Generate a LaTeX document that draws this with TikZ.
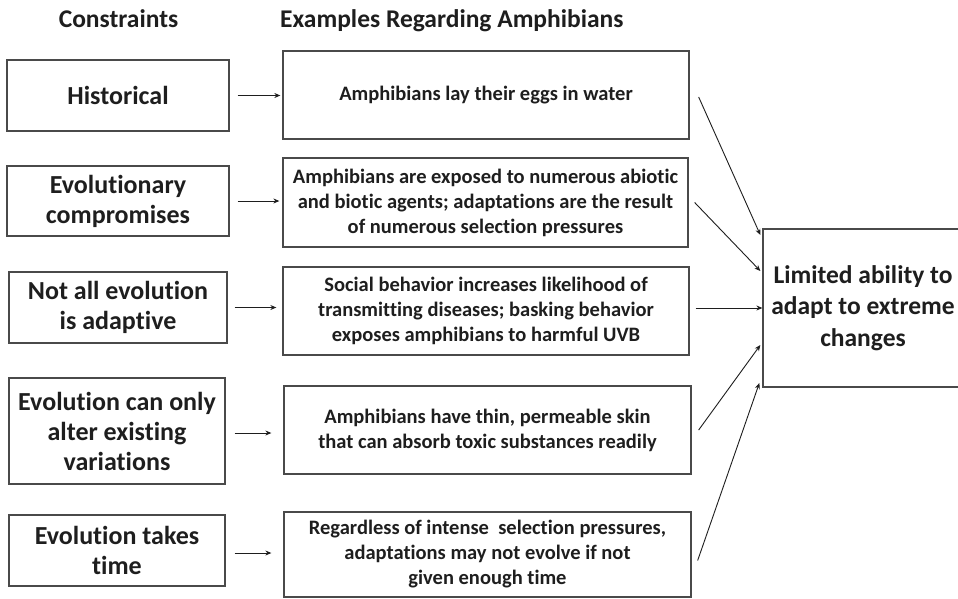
\documentclass[tikz,border=0pt]{standalone}
\usepackage{fontspec}
\setmainfont{Carlito}[Ligatures=NoCommon]
\usetikzlibrary{arrows.meta}
\definecolor{ink}{HTML}{1E1E1E}
\definecolor{frame}{HTML}{4A4A4A}
\tikzset{
  box/.style={draw=frame, line width=1.3pt, inner sep=2pt, align=center, text=ink, anchor=center},
  cbox/.style={box, font=\fontsize{26}{30}\selectfont\bfseries},
  ebox/.style={box, font=\fontsize{20.5}{25}\selectfont\bfseries},
  rbox/.style={box, font=\fontsize{25.5}{31.5}\selectfont\bfseries},
  head/.style={inner sep=0pt, anchor=base, text=ink, font=\fontsize{25.5}{28}\selectfont\bfseries},
  link/.style={draw=ink, line width=0.9pt, -{Stealth[length=6pt,width=5pt]}}
}
\begin{document}
\begin{tikzpicture}[x=1pt,y=-1pt]
\useasboundingbox (0,0) rectangle (958,599);
\clip (0,0) rectangle (958,599);
\fill[white] (0,0) rectangle (958,599);

\node[head] (hc) at (118.5,28) {Constraints};
\node[head, anchor=base west] (he) at (280,28) {Examples Regarding Amphibians};

\node[cbox, minimum width=222pt, minimum height=71pt] (L1) at (118,95.5) {Historical};
\node[cbox, minimum width=222pt, minimum height=70pt] (L2) at (118,201) {Evolutionary\\compromises};
\node[cbox, minimum width=218pt, minimum height=71pt] (L3) at (118,307.5) {Not all evolution\\is adaptive};
\node[cbox, minimum width=216pt, minimum height=106pt] (L4) at (117,431) {Evolution can only\\alter existing\\variations};
\node[cbox, minimum width=216pt, minimum height=71pt] (L5) at (117,550.5) {Evolution takes\\time};

\node[ebox, minimum width=406pt, minimum height=88pt] (E1) at (486,95) {Amphibians lay their eggs in water};
\node[ebox, minimum width=405pt, minimum height=89pt] (E2) at (485.5,202.5) {Amphibians are exposed to numerous abiotic\\and biotic agents; adaptations are the result\\of numerous selection pressures};
\node[ebox, minimum width=406pt, minimum height=88pt] (E3) at (486,311) {Social behavior increases likelihood of\\transmitting diseases; basking behavior\\exposes amphibians to harmful UVB};
\node[ebox, minimum width=407pt, minimum height=88pt] (E4) at (487.5,430) {Amphibians have thin, permeable skin\\that can absorb toxic substances readily};
\node[ebox, minimum width=407pt, minimum height=85pt] (E5) at (487.5,554.5) {Regardless of intense\ \ selection pressures,\\adaptations may not evolve if not\\given enough time};

\node[rbox, minimum width=200pt, minimum height=158pt] (R) at (863,308) {Limited ability to\\adapt to extreme\\changes};

\draw[link, shorten <=8pt, shorten >=2pt] (L1.east) -- (L1.east -| E1.west);
\draw[link, shorten <=8pt, shorten >=3pt] (L2.east) -- (L2.east -| E2.west);
\draw[link, shorten <=7pt, shorten >=6pt] (L3.east) -- (L3.east -| E3.west);
\draw[link, shorten <=9pt, shorten >=12pt] ([yshift=-2pt]L4.east) -- ([yshift=-2pt]L4.east -| E4.west);
\draw[link, shorten <=9pt, shorten >=12pt] ([yshift=-2.5pt]L5.east) -- ([yshift=-2.5pt]L5.east -| E5.west);

\draw[link] ([shift={(9,2)}]E1.east) -- ([shift={(-2,-73)}]R.west);
\draw[link] ([shift={(6,0)}]E2.east) -- ([shift={(-2,-37)}]R.west);
\draw[link] ([shift={(6,-3)}]E3.east) -- (R.west);
\draw[link] ([shift={(7,0)}]E4.east) -- ([shift={(-2,37)}]R.west);
\draw[link] ([shift={(6,6)}]E5.east) -- ([shift={(-3,75)}]R.west);
\end{tikzpicture}
\end{document}
